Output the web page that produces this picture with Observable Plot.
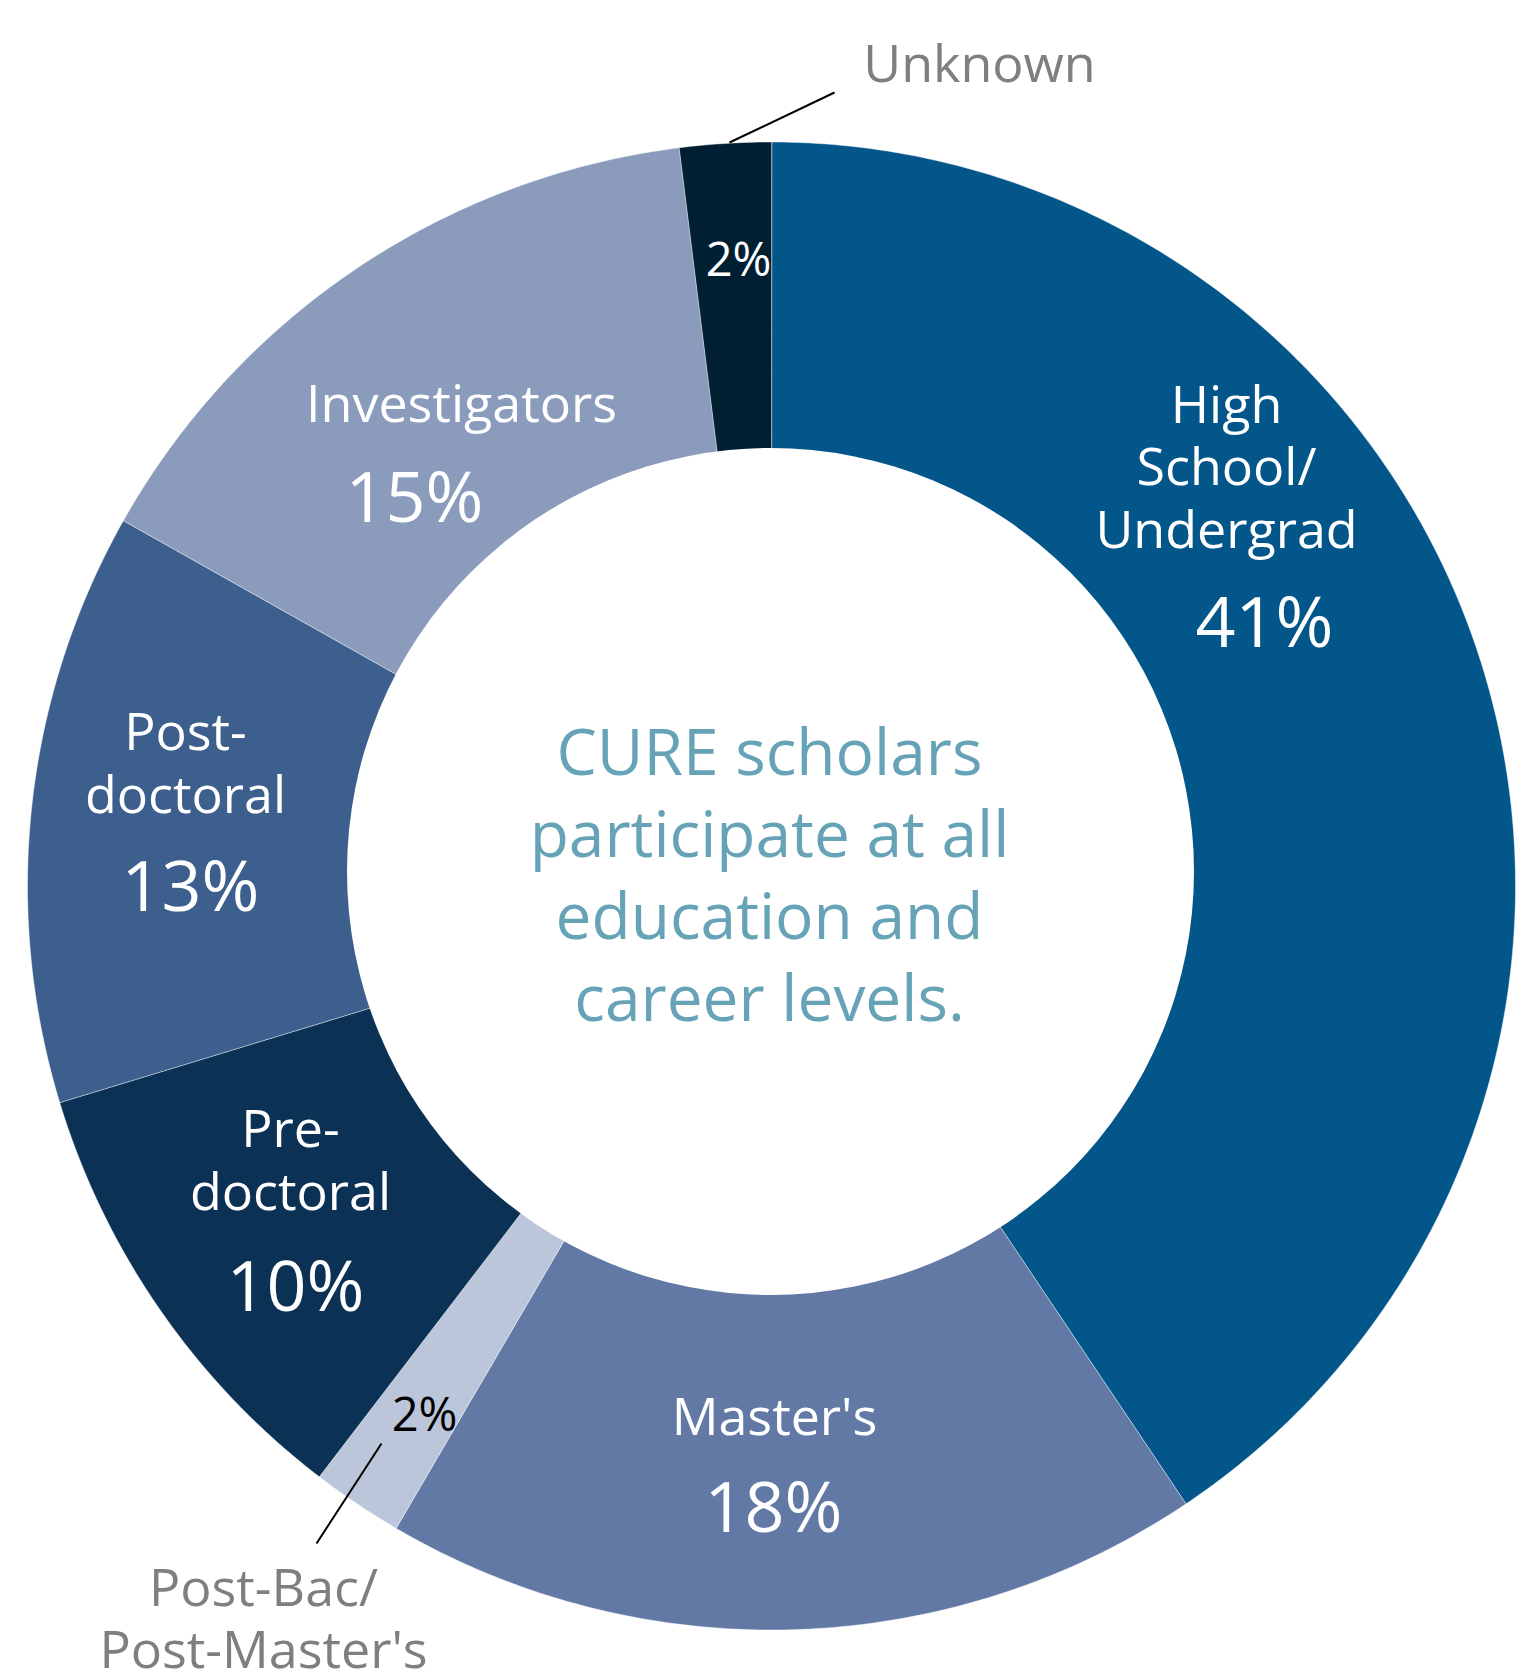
<!DOCTYPE html>
<html>
<head>
<meta charset="utf-8">
<script src="https://cdn.jsdelivr.net/npm/d3@7"></script>
<script src="https://cdn.jsdelivr.net/npm/@observablehq/plot@0.6"></script>
<style>
html, body { margin: 0; padding: 0; background: #ffffff; }
#chart svg { display: block; }
</style>
</head>
<body>
<div id="chart"></div>
<script>
// ---------- data ----------
const categories = ["High School/Undergrad", "Master's", "Post-Bac/Post-Master's", "Pre-doctoral", "Post-doctoral", "Investigators", "Unknown"];
const percents = [41, 18, 2, 10, 13, 15, 2];
const sliceColors = ["#02568a", "#6279a6", "#bcc6db", "#0b3154", "#3c5f8d", "#8a9bbc", "#011f33"];
const nameLabels = ["High\nSchool/\nUndergrad", "Master's", "", "Pre-\ndoctoral", "Post-\ndoctoral", "Investigators", ""];
const calloutLabels = ["", "", "Post-Bac/\nPost-Master's", "", "", "", "Unknown"];
const percentLabels = percents.map(p => p + "%");
const centerText = "CURE scholars\nparticipate at all\neducation and\ncareer levels.";

// ---------- layout (pixels) ----------
const W = 1532, H = 1674;
const CX = 771, CY = 885.5, R = 744;          // outer ring
const INNER = {cx: 770, cy: 871, r: 423.5};    // hole
const ux = px => (px - CX) / R;
const uy = py => (CY - py) / R;

const labelLayout = {
  "High School/Undergrad":  {namePos: [1226, 547], pctPos: [1264, 646]},
  "Master's":               {namePos: [774, 1434], pctPos: [773, 1531]},
  "Post-Bac/Post-Master's": {pctPos: [424, 1430], calloutPos: [263, 1667], leader: [[381, 1443], [316, 1543]], small: true, dark: true},
  "Pre-doctoral":           {namePos: [290, 1209], pctPos: [295, 1310]},
  "Post-doctoral":          {namePos: [185, 812], pctPos: [190, 910]},
  "Investigators":          {namePos: [461, 421], pctPos: [414, 521]},
  "Unknown":                {pctPos: [738, 275], calloutPos: [979, 81], leader: [[729, 142], [834, 92]], small: true}
};

// ---------- derived tables ----------
const slices = categories.map((key, i) => ({
  key, value: percents[i], name: nameLabels[i], callout: calloutLabels[i], pct: percentLabels[i], ...labelLayout[key]
}));

const arcs = d3.pie().sort(null).value(d => d.value)(slices);
const wedgePts = arcs.flatMap(a => {
  const key = a.data.key;
  const n = Math.max(4, Math.ceil((a.endAngle - a.startAngle) / (Math.PI / 360)));
  const pts = [{key, x: 0, y: 0}];
  for (let i = 0; i <= n; i++) {
    const t = a.startAngle + (a.endAngle - a.startAngle) * i / n;
    pts.push({key, x: Math.sin(t), y: Math.cos(t)});
  }
  return pts;
});

const named = slices.filter(d => d.name);
const bigPct = slices.filter(d => !d.small);
const smallLight = slices.filter(d => d.small && !d.dark);
const smallDark = slices.filter(d => d.small && d.dark);
const callouts = slices.filter(d => d.callout);

const font = "'Open Sans', sans-serif";

const chart = Plot.plot({
  width: W,
  height: H,
  margin: 0,
  x: {domain: [-1, 1], range: [CX - R, CX + R], axis: null},
  y: {domain: [-1, 1], range: [CY + R, CY - R], axis: null},
  color: {domain: categories, range: sliceColors},
  style: {fontFamily: font, background: "#ffffff"},
  marks: [
    Plot.line(wedgePts, {x: "x", y: "y", z: "key", fill: "key", stroke: "#ffffff", strokeOpacity: 0.45, strokeWidth: 1, curve: "linear-closed"}),
    Plot.dot([INNER], {x: d => ux(d.cx), y: d => uy(d.cy), r: INNER.r, fill: "#ffffff", stroke: null}),
    // slice names
    Plot.text(named, {x: d => ux(d.namePos[0]), y: d => uy(d.namePos[1]), text: "name", fill: "#ffffff", fontSize: 52, lineHeight: 1.2, lineAnchor: "bottom", textAnchor: "middle"}),
    // big percentages
    Plot.text(bigPct, {x: d => ux(d.pctPos[0]), y: d => uy(d.pctPos[1]), text: "pct", fill: "#ffffff", fontSize: 70, lineAnchor: "bottom", textAnchor: "middle"}),
    // small percentages
    Plot.text(smallLight, {x: d => ux(d.pctPos[0]), y: d => uy(d.pctPos[1]), text: "pct", fill: "#ffffff", fontSize: 47, lineAnchor: "bottom", textAnchor: "middle"}),
    Plot.text(smallDark, {x: d => ux(d.pctPos[0]), y: d => uy(d.pctPos[1]), text: "pct", fill: "#000000", fontSize: 47, lineAnchor: "bottom", textAnchor: "middle"}),
    // leader lines
    Plot.link(callouts, {x1: d => ux(d.leader[0][0]), y1: d => uy(d.leader[0][1]), x2: d => ux(d.leader[1][0]), y2: d => uy(d.leader[1][1]), stroke: "#000000", strokeWidth: 2}),
    // callout labels
    Plot.text(callouts, {x: d => ux(d.calloutPos[0]), y: d => uy(d.calloutPos[1]), text: "callout", fill: "#7f7f7f", fontSize: 52, lineHeight: 1.19, lineAnchor: "bottom", textAnchor: "middle"}),
    // center statement
    Plot.text([centerText], {x: ux(769), y: uy(1020), text: d => d, fill: "#67a3b6", fontSize: 64, lineHeight: 1.28, lineAnchor: "bottom", textAnchor: "middle"})
  ]
});

document.getElementById("chart").appendChild(chart);
</script>
</body>
</html>
